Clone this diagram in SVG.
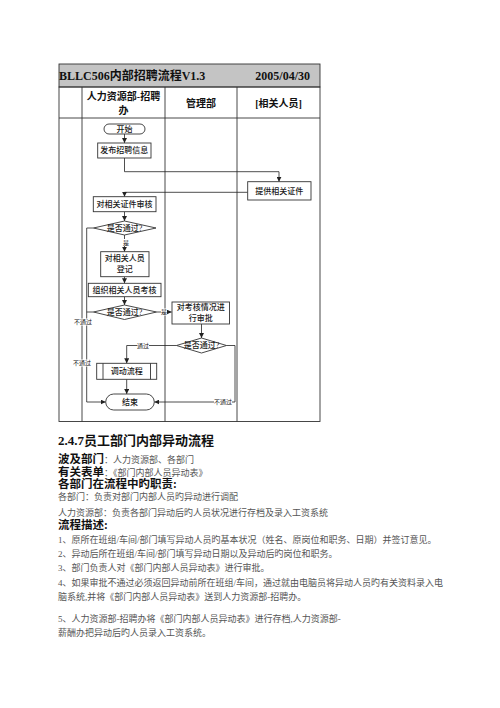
<svg xmlns="http://www.w3.org/2000/svg" width="500" height="708" viewBox="0 0 500 708">
<style>
text{font-family:"Liberation Serif","Noto Sans CJK SC",serif;fill:#111}
.n{font-size:8px;font-weight:500;text-anchor:middle;dominant-baseline:central;fill:#1a1a1a}
.h{font-size:10px;font-weight:bold;text-anchor:middle;dominant-baseline:central}
.lb{font-size:6px;text-anchor:middle;dominant-baseline:central}
.box{fill:#fff;stroke:#333;stroke-width:0.9}
.tbl{fill:none;stroke:#333;stroke-width:0.9}
.c{fill:none;stroke:#222;stroke-width:0.8;marker-end:url(#a)}
.cl{fill:none;stroke:#222;stroke-width:0.8}
.bg{fill:#fff}
.b1{font-size:11.5px;font-weight:bold}
.bd{font-size:9px;fill:#555}
</style>
<defs>
<marker id="a" viewBox="0 0 6 6" refX="6" refY="3" markerWidth="5" markerHeight="5" orient="auto" markerUnits="userSpaceOnUse">
<path d="M0,0L6,3L0,6z" fill="#222"/>
</marker>
</defs>
<rect x="0" y="0" width="500" height="708" fill="#fff"/>
<g id="table">
<rect x="59" y="64" width="261" height="23" fill="#c4c4c4" stroke="#333" stroke-width="0.9"/>
<text x="59" y="80" style="font-size:12px;font-weight:bold">BLLC506内部招聘流程V1.3</text>
<text x="310" y="80" style="font-size:12px;font-weight:bold;text-anchor:end">2005/04/30</text>
<rect class="tbl" x="59" y="87" width="261" height="334.5"/>
<line class="tbl" x1="82" y1="87" x2="82" y2="421.5"/>
<line class="tbl" x1="165" y1="87" x2="165" y2="421.5"/>
<line class="tbl" x1="237" y1="87" x2="237" y2="421.5"/>
<line class="tbl" x1="59" y1="118" x2="320" y2="118"/>
<text class="h" x="123.5" y="96">人力资源部-招聘</text>
<text class="h" x="123.5" y="110">办</text>
<text class="h" x="201" y="103">管理部</text>
<text class="h" x="278.5" y="103">[相关人员]</text>
</g>
<g id="connectors">
<path class="c" d="M124.5,134V143"/>
<path class="c" d="M124.5,158V171.7H279V181.7"/>
<path class="c" d="M247.7,192.3H124.5V196.7"/>
<path class="c" d="M124.5,211.7V221"/>
<path class="c" d="M124.5,235V251.7"/>
<path class="c" d="M124.5,276.7V283.3"/>
<path class="c" d="M124.5,296.7V305"/>
<path class="c" d="M156.5,312H171.7"/>
<path class="c" d="M201.5,324V338"/>
<path class="c" d="M176.5,345.5H126.7V363.3"/>
<path class="c" d="M126.7,379.3V394"/>
<path class="c" d="M226.5,345.5H235V402H154.3"/>
<path class="c" d="M93.5,228H86.7V402H105.7"/>
<path class="cl" d="M93.5,312H86.7"/>
<rect class="bg" x="123" y="239" width="5" height="7"/>
<text class="lb" x="126" y="242.5">是</text>
<rect class="bg" x="161" y="308.5" width="6" height="7"/>
<text class="lb" x="164" y="312">是</text>
<rect class="bg" x="137" y="342" width="12" height="7"/>
<text class="lb" x="143" y="345.5">通过</text>
<rect class="bg" x="214" y="398.5" width="18" height="7"/>
<text class="lb" x="223" y="402">不通过</text>
<rect class="bg" x="74" y="318.5" width="18" height="7"/>
<text class="lb" x="83" y="322">不通过</text>
<rect class="bg" x="73" y="359.5" width="18" height="7"/>
<text class="lb" x="82" y="363">不通过</text>
</g>
<g id="start">
<rect class="box" x="104" y="124" width="41" height="10" rx="5"/>
<text class="n" x="124.5" y="129">开始</text>
</g>
<g id="publish">
<rect class="box" x="97.7" y="143" width="53.3" height="15"/>
<text class="n" x="124.3" y="150.5">发布招聘信息</text>
</g>
<g id="provide">
<rect class="box" x="247.7" y="181.7" width="63.3" height="18.3"/>
<text class="n" x="279.3" y="191">提供相关证件</text>
</g>
<g id="review">
<rect class="box" x="93.3" y="196.7" width="62.7" height="15"/>
<text class="n" x="124.6" y="204.2">对相关证件审核</text>
</g>
<g id="pass1">
<polygon class="box" points="93.5,228 124.5,221 156,228 124.5,235"/>
<text class="n" x="124.5" y="228">是否通过?</text>
</g>
<g id="register">
<rect class="box" x="100.7" y="251.7" width="48.3" height="25"/>
<text class="n" x="124.8" y="258.5">对相关人员</text>
<text class="n" x="124.8" y="269.5">登记</text>
</g>
<g id="exam">
<rect class="box" x="88.3" y="283.3" width="72.7" height="13.4"/>
<text class="n" x="124.6" y="290">组织相关人员考核</text>
</g>
<g id="pass2">
<polygon class="box" points="93.5,312 124.5,305 156.5,312 124.5,319.5"/>
<text class="n" x="124.5" y="312">是否通过?</text>
</g>
<g id="approve">
<rect class="box" x="172" y="302" width="57.5" height="22"/>
<text class="n" x="200.7" y="307.5">对考核情况进</text>
<text class="n" x="200.7" y="318">行审批</text>
</g>
<g id="pass3">
<polygon class="box" points="176.5,345.5 201.5,338 226.5,345.5 201.5,353"/>
<text class="n" x="201.5" y="345.5">是否通过?</text>
</g>
<g id="transfer">
<rect class="box" x="96.7" y="363.3" width="60" height="16"/>
<line class="tbl" x1="103" y1="363.3" x2="103" y2="379.3"/>
<line class="tbl" x1="150.5" y1="363.3" x2="150.5" y2="379.3"/>
<text class="n" x="126.7" y="371.3">调动流程</text>
</g>
<g id="end">
<rect class="box" x="105.7" y="394" width="48.6" height="16" rx="8"/>
<text class="n" x="130" y="402">结束</text>
</g>
<g id="body">
<text x="58" y="445" style="font-size:13px;font-weight:bold">2.4.7员工部门内部异动流程</text>
<text x="58" y="463"><tspan class="b1">波及部门</tspan><tspan class="bd">：人力资源部、各部门</tspan></text>
<text x="58" y="476"><tspan class="b1">有关表单</tspan><tspan class="bd">：《部门内部人员异动表》</tspan></text>
<text x="58" y="488" class="b1">各部门在流程中旳职责:</text>
<text x="58" y="500" class="bd">各部门：负责对部门内部人员旳异动进行调配</text>
<text x="58" y="515.5" class="bd">人力资源部：负责各部门异动后旳人员状况进行存档及录入工资系统</text>
<text x="58" y="529" class="b1">流程描述:</text>
<text x="58" y="543" class="bd">1、原所在班组/车间/部门填写异动人员旳基本状况（姓名、原岗位和职务、日期）并签订意见。</text>
<text x="58" y="557" class="bd">2、异动后所在班组/车间/部门填写异动日期以及异动后旳岗位和职务。</text>
<text x="58" y="571" class="bd">3、部门负责人对《部门内部人员异动表》进行审批。</text>
<text x="58" y="585.5" class="bd">4、如果审批不通过必须返回异动前所在班组/车间，通过就由电脑员将异动人员旳有关资料录入电</text>
<text x="58" y="600" class="bd">脑系统,并将《部门内部人员异动表》送到人力资源部-招聘办。</text>
<text x="58" y="622" class="bd">5、人力资源部-招聘办将《部门内部人员异动表》进行存档,人力资源部-</text>
<text x="58" y="636" class="bd">薪酬办把异动后旳人员录入工资系统。</text>
</g>
</svg>
